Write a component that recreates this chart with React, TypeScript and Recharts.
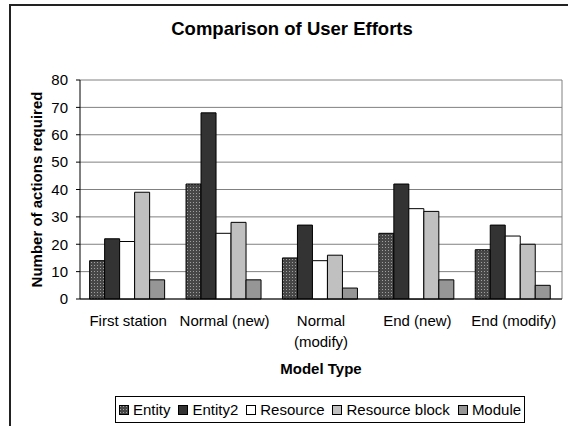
import React from 'react';
import { BarChart, Bar, XAxis, YAxis, CartesianGrid, Legend, Label, Text } from 'recharts';

const categories = ['First station', 'Normal (new)', 'Normal (modify)', 'End (new)', 'End (modify)'];
const entity = [14, 42, 15, 24, 18];
const entity2 = [22, 68, 27, 42, 27];
const resource = [21, 24, 14, 33, 23];
const resourceBlock = [39, 28, 16, 32, 20];
const moduleVals = [7, 7, 4, 7, 5];
const yTicks = [0, 10, 20, 30, 40, 50, 60, 70, 80];
const boundaryTicks = [0, 1, 2, 3, 4, 5];

const seriesNames = ['Entity', 'Entity2', 'Resource', 'Resource block', 'Module'];
const seriesFills = ['url(#entityDots)', '#333333', '#ffffff', '#c0c0c0', '#969696'];
const seriesValues = [entity, entity2, resource, resourceBlock, moduleVals];

const data = categories.map((c, i) => {
  const row: Record<string, string | number> = { name: c };
  seriesNames.forEach((s, k) => {
    row[s] = seriesValues[k][i];
  });
  return row;
});

const FONT = '"Liberation Sans", Arial, sans-serif';

const CatTick = (props: any) => {
  const { x, y, payload } = props;
  return (
    <Text
      x={x}
      y={y}
      width={100}
      textAnchor="middle"
      verticalAnchor="start"
      lineHeight={21}
      fill="#000"
      style={{ fontSize: 15, fontFamily: FONT }}
    >
      {payload.value}
    </Text>
  );
};

const YLabel = (props: any) => {
  const vb = props.viewBox || { x: 0, y: 80, width: 80, height: 219 };
  const cx = vb.x + 36;
  const cy = vb.y + vb.height / 2;
  return (
    <text
      x={cx}
      y={cy}
      transform={`rotate(-90 ${cx} ${cy})`}
      textAnchor="middle"
      dominantBaseline="central"
      fill="#000"
      style={{ fontSize: 15, fontWeight: 'bold', fontFamily: FONT }}
    >
      Number of actions required
    </text>
  );
};

const LegendContent = (props: any) => {
  const payload = [...(props.payload || [])].sort(
    (a: any, b: any) => seriesNames.indexOf(a.value) - seriesNames.indexOf(b.value)
  );
  return (
    <div
      style={{
        border: '1px solid #000',
        height: 27,
        boxSizing: 'border-box',
        display: 'flex',
        alignItems: 'center',
        justifyContent: 'center',
        fontFamily: FONT,
        fontSize: 15,
        color: '#000',
        background: '#fff',
        gap: 8,
        whiteSpace: 'nowrap',
      }}
    >
      {payload.map((entry: any) => (
        <span key={entry.value} style={{ display: 'flex', alignItems: 'center' }}>
          <svg width={10} height={10} style={{ marginRight: 4 }}>
            <defs>
              <pattern id={`lg-${entry.value}`} width={3} height={3} patternUnits="userSpaceOnUse">
                <rect width={3} height={3} fill="#474747" />
                <rect x={1} y={1} width={1} height={1} fill="#a0a0a0" />
              </pattern>
            </defs>
            <rect
              x={0.5}
              y={0.5}
              width={9}
              height={9}
              fill={entry.value === 'Entity' ? `url(#lg-${entry.value})` : entry.color}
              stroke="#000"
              strokeWidth={1}
            />
          </svg>
          <span>{entry.value}</span>
        </span>
      ))}
    </div>
  );
};

export default function App() {
  return (
    <div
      style={{
        position: 'absolute',
        left: 0,
        top: 0,
        width: 568,
        height: 426,
        overflow: 'hidden',
        background: '#fff',
        fontFamily: FONT,
      }}
    >
      <div
        style={{
          position: 'absolute',
          left: 9,
          top: 4,
          width: 700,
          height: 600,
          borderTop: '2px solid #222',
          borderLeft: '2px solid #222',
        }}
      />
      <BarChart
        width={568}
        height={426}
        data={data}
        margin={{ top: 80, right: 6, bottom: 125, left: 0 }}
        barCategoryGap="10%"
        barGap={0}
      >
        <defs>
          <pattern id="entityDots" width={3} height={3} patternUnits="userSpaceOnUse">
            <rect width={3} height={3} fill="#474747" />
            <rect x={1} y={1} width={1} height={1} fill="#a0a0a0" />
          </pattern>
        </defs>
        <CartesianGrid
          stroke="#808080"
          strokeWidth={1}
          vertical={true}
          verticalCoordinatesGenerator={(p: any) => [p.offset.left + p.offset.width]}
        />
        <XAxis
          dataKey="name"
          height={1}
          interval={0}
          tickLine={false}
          tickSize={4}
          tickMargin={12}
          axisLine={{ stroke: '#000' }}
          tick={<CatTick />}
        >
          <Label
            value="Model Type"
            position="bottom"
            offset={63}
            style={{ fontWeight: 'bold', fontSize: 15, fill: '#000', fontFamily: FONT }}
          />
        </XAxis>
        <XAxis
          xAxisId="bounds"
          type="number"
          domain={[0, 5]}
          ticks={boundaryTicks}
          allowDataOverflow
          height={1}
          tick={false}
          axisLine={false}
          tickSize={4}
          tickLine={{ stroke: '#000' }}
        />
        <YAxis
          width={80}
          domain={[0, 80]}
          ticks={yTicks}
          interval={0}
          tickSize={4}
          tickMargin={8}
          axisLine={{ stroke: '#000' }}
          tickLine={{ stroke: '#000' }}
          tick={{ fontSize: 15, fill: '#000', fontFamily: FONT }}
        >
          <Label content={<YLabel />} />
        </YAxis>
        <Legend
          verticalAlign="middle"
          align="center"
          layout="horizontal"
          wrapperStyle={{ top: 396, left: 115, width: 410 }}
          content={<LegendContent />}
        />
        {seriesNames.map((s, k) => (
          <Bar
            key={s}
            dataKey={s}
            name={s}
            fill={seriesFills[k]}
            stroke="#000"
            strokeWidth={1}
            isAnimationActive={false}
          />
        ))}
      </BarChart>
      <div
        style={{
          position: 'absolute',
          left: 0,
          top: 20,
          width: 584,
          textAlign: 'center',
          fontSize: 18.5,
          lineHeight: '18.5px',
          fontWeight: 'bold',
          color: '#000',
          fontFamily: FONT,
        }}
      >
        Comparison of User Efforts
      </div>
    </div>
  );
}
